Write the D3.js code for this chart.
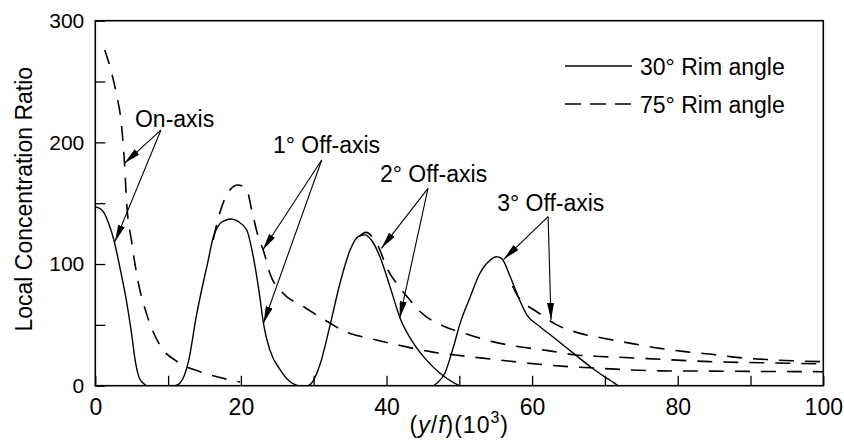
<!DOCTYPE html>
<html>
<head>
<meta charset="utf-8">
<script src="https://cdn.jsdelivr.net/npm/d3@7"></script>
<style>
  html, body { margin: 0; padding: 0; background: #fff; }
  svg { display: block; font-family: "Liberation Sans", Arial, Helvetica, sans-serif; }
</style>
</head>
<body>
<svg id="chart" width="844" height="446"></svg>
<script>
// ---------- DATA ----------
// 30° rim angle (solid)
const on30X = [0, 0.5, 1.1, 1.8, 2.5, 3.4, 4.3, 5.0, 5.5, 6.05, 6.6, 7.0];
const on30Y = [147, 146, 143, 134, 121, 96.5, 69, 42, 20, 6.3, 2, 0];
const off1_30X = [11.0, 11.6, 12.2, 12.8, 13.9, 14.8, 15.4, 16.2, 17.1, 17.9, 18.7, 19.6, 20.8, 21.7, 22.6, 23.1, 24.0, 25.4, 26.8, 27.8];
const off1_30Y = [0, 2, 8, 20, 58, 84, 100, 122, 133, 136, 137, 135, 128, 106, 73, 51, 29, 13, 3, 0];
const off2_30X = [29.3, 29.7, 30.9, 32.2, 33.6, 35.0, 36.1, 37.0, 37.9, 39.1, 40.5, 41.9, 43.7, 45.5, 47.4, 49.2, 50.0];
const off2_30Y = [0, 2, 18, 48.5, 84, 111.5, 122.5, 124, 120, 106, 81, 55, 35, 21, 10, 2.5, 0];
const off3_30X = [46.5, 46.9, 48.0, 49.2, 50.1, 51.5, 52.8, 54.2, 55.1, 55.8, 57.0, 58.1, 59.3, 61.1, 63.4, 65.7, 68.0, 70.3, 71.2, 71.8];
const off3_30Y = [0, 2, 10, 32, 51, 73, 92, 103, 106, 104.7, 89.6, 73, 58, 48.5, 37.6, 26.6, 15.6, 6, 2.5, 0];

// 75° rim angle (dashed)
const on75X = [1.3, 2.2, 2.86, 3.6, 4.0, 4.3, 5.0, 5.9, 7.1, 8.9, 11.2, 14.4, 17.6, 19.9];
const on75Y = [276, 258, 241, 214, 184, 151, 118, 85, 58, 33, 20, 11.5, 6, 3];
const off1_75X = [16.2, 17.1, 18.5, 19.6, 20.8, 21.5, 22.4, 23.1, 24.0, 25.8, 28.6, 31.8, 34.5, 38.0, 41.9, 46.0, 50.5, 54.2, 57.9, 61.5, 65.2, 69.3, 73.4, 77.6, 84.4, 92.0, 100];
const off1_75Y = [120, 142, 161, 165, 161, 144, 122, 111, 92, 76, 65, 53, 44, 38.5, 33, 28, 24.5, 22, 19.5, 17.3, 15.6, 14.3, 13, 12.2, 12, 11.7, 11.5];
const off2_75X = [36.3, 37.2, 38.2, 38.9, 40.2, 41.4, 43.0, 44.6, 47.8, 51.0, 54.7, 58.3, 62.0, 65.7, 69.3, 73.4, 77.6, 84.4, 92.2, 100];
const off2_75Y = [123, 126, 121, 114, 95, 84, 72, 61, 49, 42.5, 36, 32, 29, 25.5, 24, 23, 21.7, 19.8, 18.8, 18];
const off3_75X = [57.3, 58.1, 59.3, 60.6, 62.0, 63.4, 65.0, 66.6, 69.8, 73.4, 77.6, 81.0, 84.4, 88.1, 92.2, 95.8, 100];
const off3_75Y = [82, 73, 66, 61, 55, 50, 46, 43, 39, 35, 30.7, 28, 26, 23.3, 21.5, 20.5, 19.7];

// axes
const xTickValues = [0, 10, 20, 30, 40, 50, 60, 70, 80, 90, 100];
const xTickLabels = [0, 20, 40, 60, 80, 100];
const yTickValues = [0, 50, 100, 150, 200, 250, 300];
const yTickLabels = [0, 100, 200, 300];

// legend
const legendLabels = ["30° Rim angle", "75° Rim angle"];

// annotations: label text, label anchor (data units), arrow origin, arrow tips
const annLabels = ["On-axis", "1° Off-axis", "2° Off-axis", "3° Off-axis"];
const annLabelX = [5.45, 24.4, 39.1, 55.2];
const annLabelY = [212.7, 191, 167.4, 143.6];
const annFromX = [9.0, 31.1, 45.7, 62.2];
const annFromY = [210, 185.5, 162.2, 138.9];
const annTip1X = [4.0, 23.0, 39.3, 56.1];
const annTip1Y = [182.8, 111.5, 112.9, 103.9];
const annTip2X = [2.7, 23.1, 41.8, 62.6];
const annTip2Y = [118.4, 51.3, 55.4, 54];

// ---------- CHART ----------
const svg = d3.select("#chart");
const x = d3.scaleLinear().domain([0, 100]).range([95.3, 823.3]);
const y = d3.scaleLinear().domain([0, 300]).range([385.7, 20.7]);

svg.append("defs").append("marker")
  .attr("id", "arrow")
  .attr("viewBox", "0 0 17 7")
  .attr("refX", 17).attr("refY", 3.5)
  .attr("markerWidth", 17).attr("markerHeight", 7)
  .attr("markerUnits", "userSpaceOnUse")
  .attr("orient", "auto")
  .append("path").attr("d", "M0,0 L17,3.5 L0,7 Z").attr("fill", "#000");

// frame
svg.append("rect")
  .attr("x", x(0)).attr("y", y(300))
  .attr("width", x(100) - x(0)).attr("height", y(0) - y(300))
  .attr("fill", "none").attr("stroke", "#000").attr("stroke-width", 1.6);

// axes
const xAxis = d3.axisBottom(x).tickValues(xTickValues).tickSizeInner(-10).tickSizeOuter(0)
  .tickPadding(13).tickFormat(d => xTickLabels.includes(d) ? d : "");
const gx = svg.append("g").attr("transform", `translate(0,${y(0)})`).call(xAxis);
const yAxis = d3.axisLeft(y).tickValues(yTickValues).tickSizeInner(-10).tickSizeOuter(0)
  .tickPadding(11).tickFormat(d => yTickLabels.includes(d) ? d : "");
const gy = svg.append("g").attr("transform", `translate(${x(0)},0)`).call(yAxis);
[gx, gy].forEach(g => {
  g.select(".domain").remove();
  g.selectAll(".tick line").attr("stroke", "#000").attr("stroke-width", 1.3);
  g.selectAll(".tick text").attr("fill", "#000").attr("font-family", "'Liberation Sans', Arial, sans-serif");
});
gx.selectAll(".tick text").attr("font-size", 23);
gy.selectAll(".tick text").attr("font-size", 21);

// axis titles
svg.append("text")
  .attr("transform", `translate(32,${(y(0) + y(300)) / 2 - 4}) rotate(-90)`)
  .attr("text-anchor", "middle").attr("font-size", 23).attr("fill", "#000")
  .text("Local Concentration Ratio");

const xt = svg.append("text")
  .attr("x", (x(0) + x(100)) / 2).attr("y", 433)
  .attr("text-anchor", "middle").attr("font-size", 23).attr("fill", "#000")
  .attr("letter-spacing", 1);
xt.append("tspan").text("(");
xt.append("tspan").attr("font-style", "italic").text("y");
xt.append("tspan").text("/");
xt.append("tspan").attr("font-style", "italic").text("f");
xt.append("tspan").text(")(10");
xt.append("tspan").attr("dy", -10).attr("font-size", 16).text("3");
xt.append("tspan").attr("dy", 10).text(")");

// curves
const series = [
  { xs: on30X, ys: on30Y, dashed: false },
  { xs: off1_30X, ys: off1_30Y, dashed: false },
  { xs: off2_30X, ys: off2_30Y, dashed: false },
  { xs: off3_30X, ys: off3_30Y, dashed: false },
  { xs: on75X, ys: on75Y, dashed: true },
  { xs: off1_75X, ys: off1_75Y, dashed: true },
  { xs: off2_75X, ys: off2_75Y, dashed: true },
  { xs: off3_75X, ys: off3_75Y, dashed: true }
];
const line = d3.line().x(d => x(d[0])).y(d => y(d[1])).curve(d3.curveMonotoneX);
svg.append("g").selectAll("path").data(series).join("path")
  .attr("d", s => line(s.xs.map((v, i) => [v, s.ys[i]])))
  .attr("fill", "none").attr("stroke", "#000")
  .attr("stroke-width", s => s.dashed ? 1.6 : 1.4)
  .attr("stroke-dasharray", s => s.dashed ? "15,11" : null);

// annotations
const ann = svg.append("g");
annLabels.forEach((t, i) => {
  ann.append("text").attr("x", x(annLabelX[i])).attr("y", y(annLabelY[i]))
    .attr("font-size", 23).attr("fill", "#000").text(t);
  [[annTip1X[i], annTip1Y[i]], [annTip2X[i], annTip2Y[i]]].forEach(tp => {
    ann.append("line")
      .attr("x1", x(annFromX[i])).attr("y1", y(annFromY[i]))
      .attr("x2", x(tp[0])).attr("y2", y(tp[1]))
      .attr("stroke", "#000").attr("stroke-width", 1.1)
      .attr("marker-end", "url(#arrow)");
  });
});

// legend
const lg = svg.append("g");
legendLabels.forEach((t, i) => {
  const ly = 66 + i * 38;
  lg.append("line").attr("x1", 565).attr("x2", 632).attr("y1", ly).attr("y2", ly)
    .attr("stroke", "#000").attr("stroke-width", i ? 1.6 : 1.4)
    .attr("stroke-dasharray", i ? "16,9" : null);
  lg.append("text").attr("x", 640).attr("y", ly + 9)
    .attr("font-size", 23).attr("fill", "#000").text(t);
});
</script>
</body>
</html>
